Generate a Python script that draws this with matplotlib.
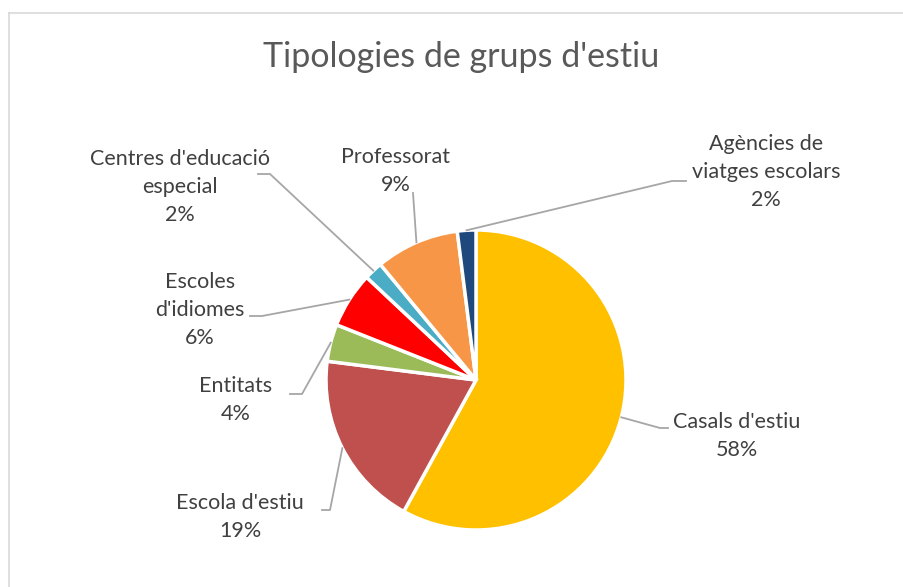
import numpy as np
import matplotlib
matplotlib.use("Agg")
import matplotlib.pyplot as plt
from matplotlib.lines import Line2D

plt.rcParams['font.family'] = ['Lato', 'DejaVu Sans']

title = "Tipologies de grups d'estiu"
categories = ["Casals d'estiu", "Escola d'estiu", "Entitats", "Escoles\nd'idiomes",
              "Centres d'educació\nespecial", "Professorat", "Agències de\nviatges escolars"]
values = [58, 19, 4, 6, 2, 9, 2]
colors = ["#FFC000", "#C0504D", "#9BBB59", "#FF0000", "#4BACC6", "#F79646", "#1F497D"]

W, H = 904, 587
fig = plt.figure(figsize=(W / 100, H / 100), dpi=100)
ax = fig.add_axes([0, 0, 1, 1])
ax.set_xlim(0, W)
ax.set_ylim(0, H)
ax.set_aspect('equal')
ax.axis('off')

cx, cy, R = 476, H - 380, 150
wedges, _ = ax.pie(values, colors=colors, startangle=90, counterclock=False,
                   center=(cx, cy), radius=R, frame=True,
                   wedgeprops=dict(edgecolor='white', linewidth=2.5))
ax.set_xlim(0, W)
ax.set_ylim(0, H)
ax.axis('off')

# label layout: (text center x, text center y in px from top, elbow x, elbow end x, elbow y)
layout = [
    (737, 436, 660, 668, 428),
    (240, 517, 330, 322, 510),
    (236, 400, 302, 290, 394),
    (200, 310, 262, 250, 316),
    (180, 187, 270, 258, 174),
    (396, 171, 416, 413, 193),
    (766, 172, 672, 686, 181),
]

total = sum(values)
lc = "#A6A6A6"
tc = "#404040"
for w, cat, v, (tx, ty, ex, ex2, ey) in zip(wedges, categories, values, layout):
    ang = np.deg2rad((w.theta1 + w.theta2) / 2)
    px, py = cx + R * np.cos(ang), cy + R * np.sin(ang)
    if cat == "Professorat":
        ax.add_line(Line2D([px, ex2], [py, H - ey], color=lc, lw=1.3))
    else:
        ax.add_line(Line2D([px, ex, ex2], [py, H - ey, H - ey], color=lc, lw=1.3))
    pct = f"{round(100 * v / total)}%"
    ax.text(tx, H - ty, f"{cat}\n{pct}", ha='center', va='center', fontsize=15.5,
            color=tc, linespacing=1.5)

ax.text(461, H - 57, title, ha='center', va='center', fontsize=24.5, color="#595959")

# chart border (partially cropped)
bc = "#D9D9D9"
ax.add_line(Line2D([9.5, W], [H - 12.5, H - 12.5], color=bc, lw=1.2, clip_on=False))
ax.add_line(Line2D([9.5, 9.5], [0, H - 12.5], color=bc, lw=1.2, clip_on=False))

fig.savefig("out.png", dpi=100, facecolor='white')
